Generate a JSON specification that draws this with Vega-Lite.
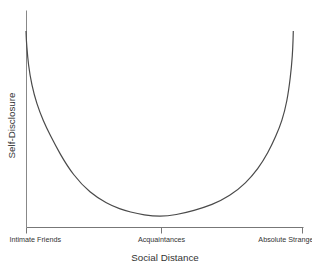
{
  "$schema": "https://vega.github.io/schema/vega-lite/v6.json",
  "width": 277,
  "height": 217,
  "autosize": "none",
  "padding": {"left": 26, "top": 10, "right": 9, "bottom": 35},
  "background": "white",
  "config": {"view": {"stroke": null}, "font": "Liberation Sans"},
  "data": {"values": [
    {"d": 0, "s": 196},
    {"d": 0.3, "s": 188},
    {"d": 0.7, "s": 182},
    {"d": 2.3, "s": 162},
    {"d": 5.7, "s": 142},
    {"d": 10.7, "s": 123},
    {"d": 17.3, "s": 106},
    {"d": 24, "s": 92},
    {"d": 34, "s": 73},
    {"d": 47, "s": 52},
    {"d": 64, "s": 34},
    {"d": 81, "s": 23.5},
    {"d": 94, "s": 18},
    {"d": 104, "s": 15},
    {"d": 118, "s": 12},
    {"d": 134, "s": 10.3},
    {"d": 150, "s": 12},
    {"d": 168, "s": 16.5},
    {"d": 186, "s": 22},
    {"d": 204, "s": 31},
    {"d": 220, "s": 44},
    {"d": 232, "s": 58},
    {"d": 242, "s": 74},
    {"d": 250, "s": 91},
    {"d": 256, "s": 106},
    {"d": 261, "s": 125},
    {"d": 264.5, "s": 150},
    {"d": 266.5, "s": 172},
    {"d": 267.1, "s": 188},
    {"d": 267.3, "s": 196}
  ]},
  "mark": {"type": "line", "color": "#4a4a4a", "strokeWidth": 1.2, "interpolate": "basis"},
  "encoding": {
    "x": {
      "field": "d", "type": "quantitative",
      "scale": {"domain": [0, 277], "nice": false, "zero": false},
      "axis": {
        "values": [0, 135, 276],
        "labelExpr": "datum.value == 0 ? 'Intimate Friends' : datum.value == 135 ? 'Acquaintances' : 'Absolute Strangers'",
        "grid": false,
        "domainColor": "#777777",
        "tickColor": "#777777",
        "tickSize": 6,
        "labelFontSize": 7.2,
        "labelColor": "#333333",
        "labelPadding": 2,
        "labelOverlap": false,
        "labelBound": false,
        "labelFlush": true,
        "labelFlushOffset": 17,
        "title": "Social Distance",
        "titleFontSize": 9.8,
        "titleFontWeight": "normal",
        "titleColor": "#333333",
        "titlePadding": 10
      }
    },
    "y": {
      "field": "s", "type": "quantitative",
      "scale": {"domain": [0, 217], "nice": false},
      "axis": {
        "grid": false,
        "ticks": false,
        "labels": false,
        "domainColor": "#888888",
        "title": "Self-Disclosure",
        "titleFontSize": 9.8,
        "titleFontWeight": "normal",
        "titleColor": "#333333",
        "titlePadding": 10,
        "titleY": 115
      }
    }
  }
}
